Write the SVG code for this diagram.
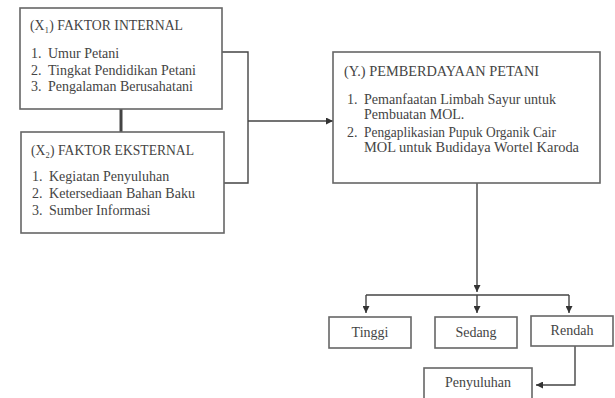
<svg xmlns="http://www.w3.org/2000/svg" width="615" height="398" viewBox="0 0 615 398">
<defs>
<style>
.box{fill:#fff;stroke:#666;stroke-width:1.6}
.t{font-family:"Liberation Serif","Times New Roman",serif;font-size:14px;fill:#444}
.c{text-anchor:middle}
.ln{fill:none;stroke:#444;stroke-width:1.4}
</style>
<marker id="ah" viewBox="0 0 10 10" refX="10" refY="5" markerWidth="7" markerHeight="7" orient="auto" markerUnits="userSpaceOnUse">
<path d="M0,0 L10,5 L0,10 z" fill="#333"/>
</marker>
</defs>
<rect width="615" height="398" fill="#fff"/>
<g id="connectors">
<line x1="121" y1="109" x2="121" y2="132" stroke="#444" stroke-width="3"/>
<polyline class="ln" points="222,52 248,52 248,183 224,183"/>
<line class="ln" x1="248" y1="121" x2="333" y2="121" marker-end="url(#ah)"/>
<line class="ln" x1="477" y1="183" x2="477" y2="292" marker-end="url(#ah)"/>
<line class="ln" x1="366" y1="295" x2="569" y2="295"/>
<line class="ln" x1="366" y1="295" x2="366" y2="313" marker-end="url(#ah)"/>
<line class="ln" x1="477" y1="295" x2="477" y2="313" marker-end="url(#ah)"/>
<line class="ln" x1="569" y1="295" x2="569" y2="313" marker-end="url(#ah)"/>
<polyline class="ln" points="575,346 575,385 536,385" marker-end="url(#ah)"/>
</g>
<g id="internal">
<rect class="box" x="20" y="8" width="202" height="101"/>
<text class="t" x="30" y="30" textLength="153" lengthAdjust="spacingAndGlyphs">(X₁) FAKTOR INTERNAL</text>
<text class="t" x="31" y="58">1.</text><text class="t" x="48" y="58">Umur Petani</text>
<text class="t" x="31" y="75">2.</text><text class="t" x="48" y="75" textLength="148" lengthAdjust="spacingAndGlyphs">Tingkat Pendidikan Petani</text>
<text class="t" x="31" y="91">3.</text><text class="t" x="48" y="91" textLength="145" lengthAdjust="spacingAndGlyphs">Pengalaman Berusahatani</text>
</g>
<g id="eksternal">
<rect class="box" x="21" y="132" width="203" height="101"/>
<text class="t" x="31" y="155" textLength="163" lengthAdjust="spacingAndGlyphs">(X₂) FAKTOR EKSTERNAL</text>
<text class="t" x="32" y="181">1.</text><text class="t" x="49" y="181">Kegiatan Penyuluhan</text>
<text class="t" x="32" y="198">2.</text><text class="t" x="49" y="198" textLength="146" lengthAdjust="spacingAndGlyphs">Ketersediaan Bahan Baku</text>
<text class="t" x="32" y="215">3.</text><text class="t" x="49" y="215">Sumber Informasi</text>
</g>
<g id="pemberdayaan">
<rect class="box" x="333" y="52" width="267" height="131"/>
<text class="t" x="344" y="76" textLength="195" lengthAdjust="spacingAndGlyphs">(Y.) PEMBERDAYAAN PETANI</text>
<text class="t" x="347" y="104">1.</text><text class="t" x="364" y="104" textLength="192" lengthAdjust="spacingAndGlyphs">Pemanfaatan Limbah Sayur untuk</text>
<text class="t" x="364" y="119">Pembuatan MOL.</text>
<text class="t" x="347" y="137">2.</text><text class="t" x="364" y="137" textLength="192" lengthAdjust="spacingAndGlyphs">Pengaplikasian Pupuk Organik Cair</text>
<text class="t" x="364" y="152" textLength="215" lengthAdjust="spacingAndGlyphs">MOL untuk Budidaya Wortel Karoda</text>
</g>
<g id="tinggi">
<rect class="box" x="329" y="317" width="82" height="31"/>
<text class="t c" x="370" y="337">Tinggi</text>
</g>
<g id="sedang">
<rect class="box" x="435" y="317" width="82" height="31"/>
<text class="t c" x="476" y="337">Sedang</text>
</g>
<g id="rendah">
<rect class="box" x="531" y="316" width="82" height="30"/>
<text class="t c" x="572" y="335">Rendah</text>
</g>
<g id="penyuluhan">
<rect class="box" x="424" y="368" width="108" height="40"/>
<text class="t c" x="478" y="387">Penyuluhan</text>
</g>
</svg>
